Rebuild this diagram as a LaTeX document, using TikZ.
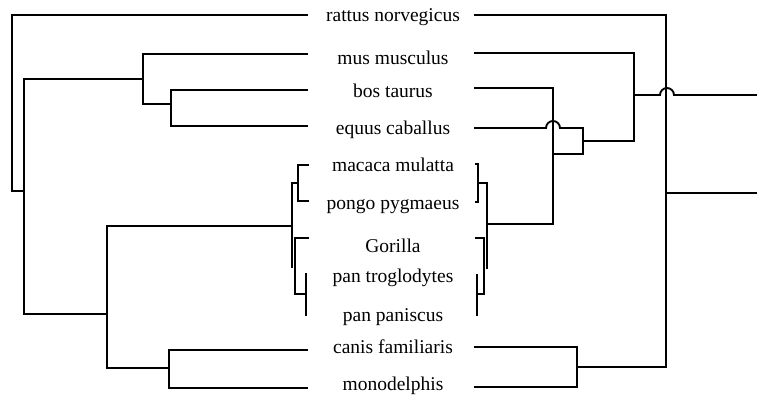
\documentclass[tikz,border=0pt]{standalone}
\usepackage{fontspec}
\setmainfont{Liberation Serif}
\begin{document}
\begin{tikzpicture}[x=1pt,y=-1pt,
  branch/.style={line width=1.9pt,line join=miter,line cap=rect},
  taxon/.style={anchor=base,inner sep=0pt,font=\fontsize{19.5}{22}\selectfont}]
\useasboundingbox (0,0) rectangle (757,396);

% taxon labels, set between the two trees (positions are baselines)
\node[taxon] (rat) at (393,22)    {rattus norvegicus};
\node[taxon] (mus) at (393,64)    {mus musculus};
\node[taxon] (bos) at (393,97)    {bos taurus};
\node[taxon] (equ) at (393,134)   {equus caballus};
\node[taxon] (mac) at (393,171)   {macaca mulatta};
\node[taxon] (pon) at (393,209)   {pongo pygmaeus};
\node[taxon] (gor) at (393,252)   {Gorilla};
\node[taxon] (ptr) at (393,282)   {pan troglodytes};
\node[taxon] (ppa) at (393,321.5) {pan paniscus};
\node[taxon] (can) at (393,353)   {canis familiaris};
\node[taxon] (mon) at (393,390)   {monodelphis};

% left tree
\draw[branch] (307,15) -- (11.7,15) -- (11.7,191) -- (24,191);
\draw[branch] (24,79) -- (24,314);
\draw[branch] (24,79) -- (143,79);
\draw[branch] (307,54) -- (143,54) -- (143,104) -- (171,104);
\draw[branch] (307,90) -- (171,90) -- (171,126) -- (307,126);
\draw[branch] (24,314) -- (107,314);
\draw[branch] (107,226) -- (107,368);
\draw[branch] (107,226) -- (292,226);
\draw[branch] (292,183) -- (292,267);
\draw[branch] (292,183) -- (298,183);
\draw[branch] (308,165) -- (298,165) -- (298,201) -- (308,201);
\draw[branch] (308,238) -- (295,238) -- (295,294) -- (306,294);
\draw[branch] (306,274) -- (306,315);
\draw[branch] (107,368) -- (169,368);
\draw[branch] (307,350) -- (169,350) -- (169,388) -- (307,388);

% right tree (line jumps drawn as small upper half circles)
\draw[branch] (475,15) -- (666,15) -- (666,367) -- (577,367);
\draw[branch] (666,193) -- (757,193);
\draw[branch] (475,53) -- (634,53) -- (634,141) -- (583,141);
\draw[branch] (636,95) -- (660,95) arc[start angle=180,end angle=360,radius=7] -- (757,95);
\draw[branch] (475,88) -- (553,88) -- (553,224) -- (487,224);
\draw[branch] (475,128) -- (546,128) arc[start angle=180,end angle=360,radius=7]
  -- (583,128) -- (583,154) -- (553,154);
\draw[branch] (476,164) -- (478,164) -- (478,202) -- (476,202);
\draw[branch] (478,183) -- (487,183) -- (487,268);
\draw[branch] (476,238) -- (484,238) -- (484,294) -- (477,294);
\draw[branch] (477,275) -- (477,315);
\draw[branch] (475,347) -- (577,347) -- (577,387) -- (475,387);
\end{tikzpicture}
\end{document}
